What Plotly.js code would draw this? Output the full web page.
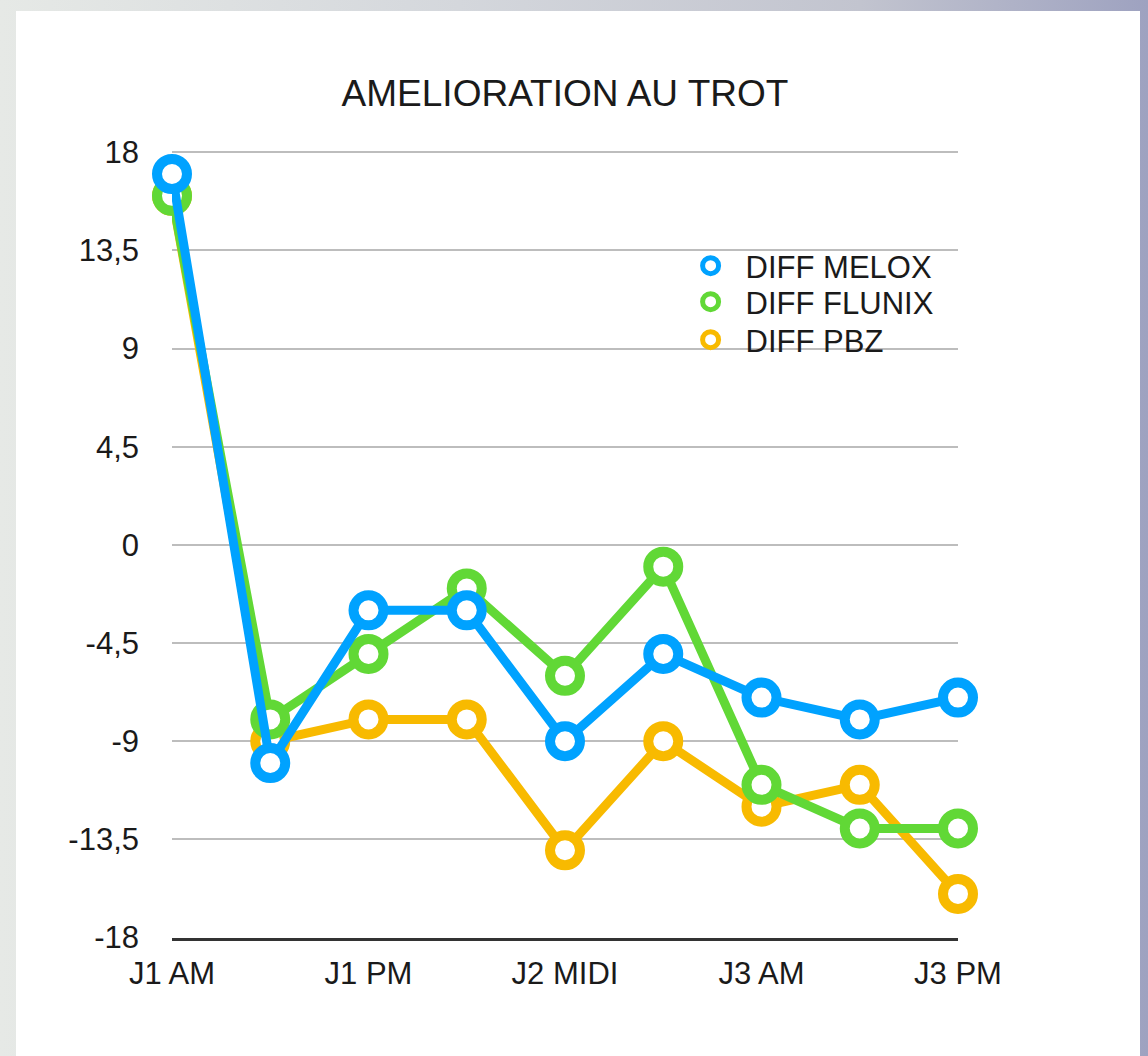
<!DOCTYPE html>
<html>
<head>
<meta charset="utf-8">
<script src="https://cdn.plot.ly/plotly-3.0.1.min.js"></script>
<style>
  html, body { margin: 0; padding: 0; }
  body {
    width: 1148px; height: 1056px; overflow: hidden; position: relative;
    background: linear-gradient(90deg, #e6e9e6 0%, #d4d7dc 40%, #c2c4cf 75%, #9ea2c0 100%);
  }
  #chart { position: absolute; left: 16px; top: 11px; width: 1124px; height: 1045px; background: #ffffff; }
</style>
</head>
<body>
<div id="chart"></div>
<script>
// ---- data ----
const categories = ["J1 AM", "", "J1 PM", "", "J2 MIDI", "", "J3 AM", "", "J3 PM"];
const xTickIndex = [0, 2, 4, 6, 8];
const xTickText = ["J1 AM", "J1 PM", "J2 MIDI", "J3 AM", "J3 PM"];
const yTickVals = [18, 13.5, 9, 4.5, 0, -4.5, -9, -13.5, -18];
const yTickText = ["18", "13,5", "9", "4,5", "0", "-4,5", "-9", "-13,5", "-18"];
const seriesNames = ["DIFF MELOX", "DIFF FLUNIX", "DIFF PBZ"];
const diffMelox = [17, -10, -3, -3, -9, -5, -7, -8, -7];
const diffFlunix = [16, -8, -5, -2, -6, -1, -11, -13, -13];
const diffPbz = [16, -9, -8, -8, -14, -9, -12, -11, -16];

const xIdx = categories.map((c, i) => i);
const colors = { melox: '#00a2ff', flunix: '#61d836', pbz: '#f8ba00' };

function series(name, y, color) {
  return {
    type: 'scatter', mode: 'lines+markers', name: name,
    x: xIdx, y: y, showlegend: false,
    line: { color: color, width: 9 },
    marker: { size: 30, color: '#ffffff', line: { color: color, width: 10 } },
    cliponaxis: false,
    hoverinfo: 'x+y'
  };
}
// legend entries (ring symbol only, as in the original legend)
function legendEntry(name, color, legendId) {
  return {
    type: 'scatter', mode: 'markers', name: name,
    x: [null], y: [null], legend: legendId, showlegend: true,
    marker: { size: 16, color: '#ffffff', line: { color: color, width: 5 } }
  };
}

const traces = [
  series(seriesNames[2], diffPbz, colors.pbz),
  series(seriesNames[1], diffFlunix, colors.flunix),
  series(seriesNames[0], diffMelox, colors.melox),
  legendEntry(seriesNames[0], colors.melox, 'legend'),
  legendEntry(seriesNames[1], colors.flunix, 'legend2'),
  legendEntry(seriesNames[2], colors.pbz, 'legend3')
];

const font = "'Liberation Sans', Arial, Helvetica, sans-serif";

function leg(yv) {
  return {
    x: 0.6407, y: yv, xanchor: 'left', yanchor: 'middle',
    bgcolor: 'rgba(0,0,0,0)', borderwidth: 0, itemwidth: 60,
    font: { family: font, size: 31, color: '#1a1a1a' }
  };
}

const layout = {
  width: 1124, height: 1045,
  paper_bgcolor: '#ffffff', plot_bgcolor: '#ffffff',
  margin: { l: 156, r: 182, t: 139, b: 118 },
  font: { family: font, size: 31, color: '#1a1a1a' },
  title: {
    text: 'AMELIORATION AU TROT',
    font: { family: font, size: 37, color: '#1a1a1a' },
    x: 0.5, xref: 'paper', xanchor: 'center',
    y: 1 - 82 / 1045, yref: 'container', yanchor: 'middle'
  },
  xaxis: {
    range: [0, 8], tickmode: 'array', tickvals: xTickIndex, ticktext: xTickText,
    showgrid: false, zeroline: false, showline: true, linecolor: '#333333', linewidth: 3,
    ticks: '', ticklabelstandoff: 6, tickfont: { family: font, size: 31, color: '#1a1a1a' },
    fixedrange: true
  },
  yaxis: {
    range: [-18.02, 18.1], tickmode: 'array', tickvals: yTickVals, ticktext: yTickText,
    showgrid: true, gridcolor: '#bdbdbd', gridwidth: 2, zeroline: false, showline: false,
    ticks: '', ticklabelstandoff: 32, tickfont: { family: font, size: 31, color: '#1a1a1a' },
    fixedrange: true
  },
  legend: leg(0.8528),
  legend2: leg(0.8071),
  legend3: leg(0.7589),
  showlegend: true
};

Plotly.newPlot('chart', traces, layout, { displayModeBar: false, staticPlot: true });
</script>
</body>
</html>
